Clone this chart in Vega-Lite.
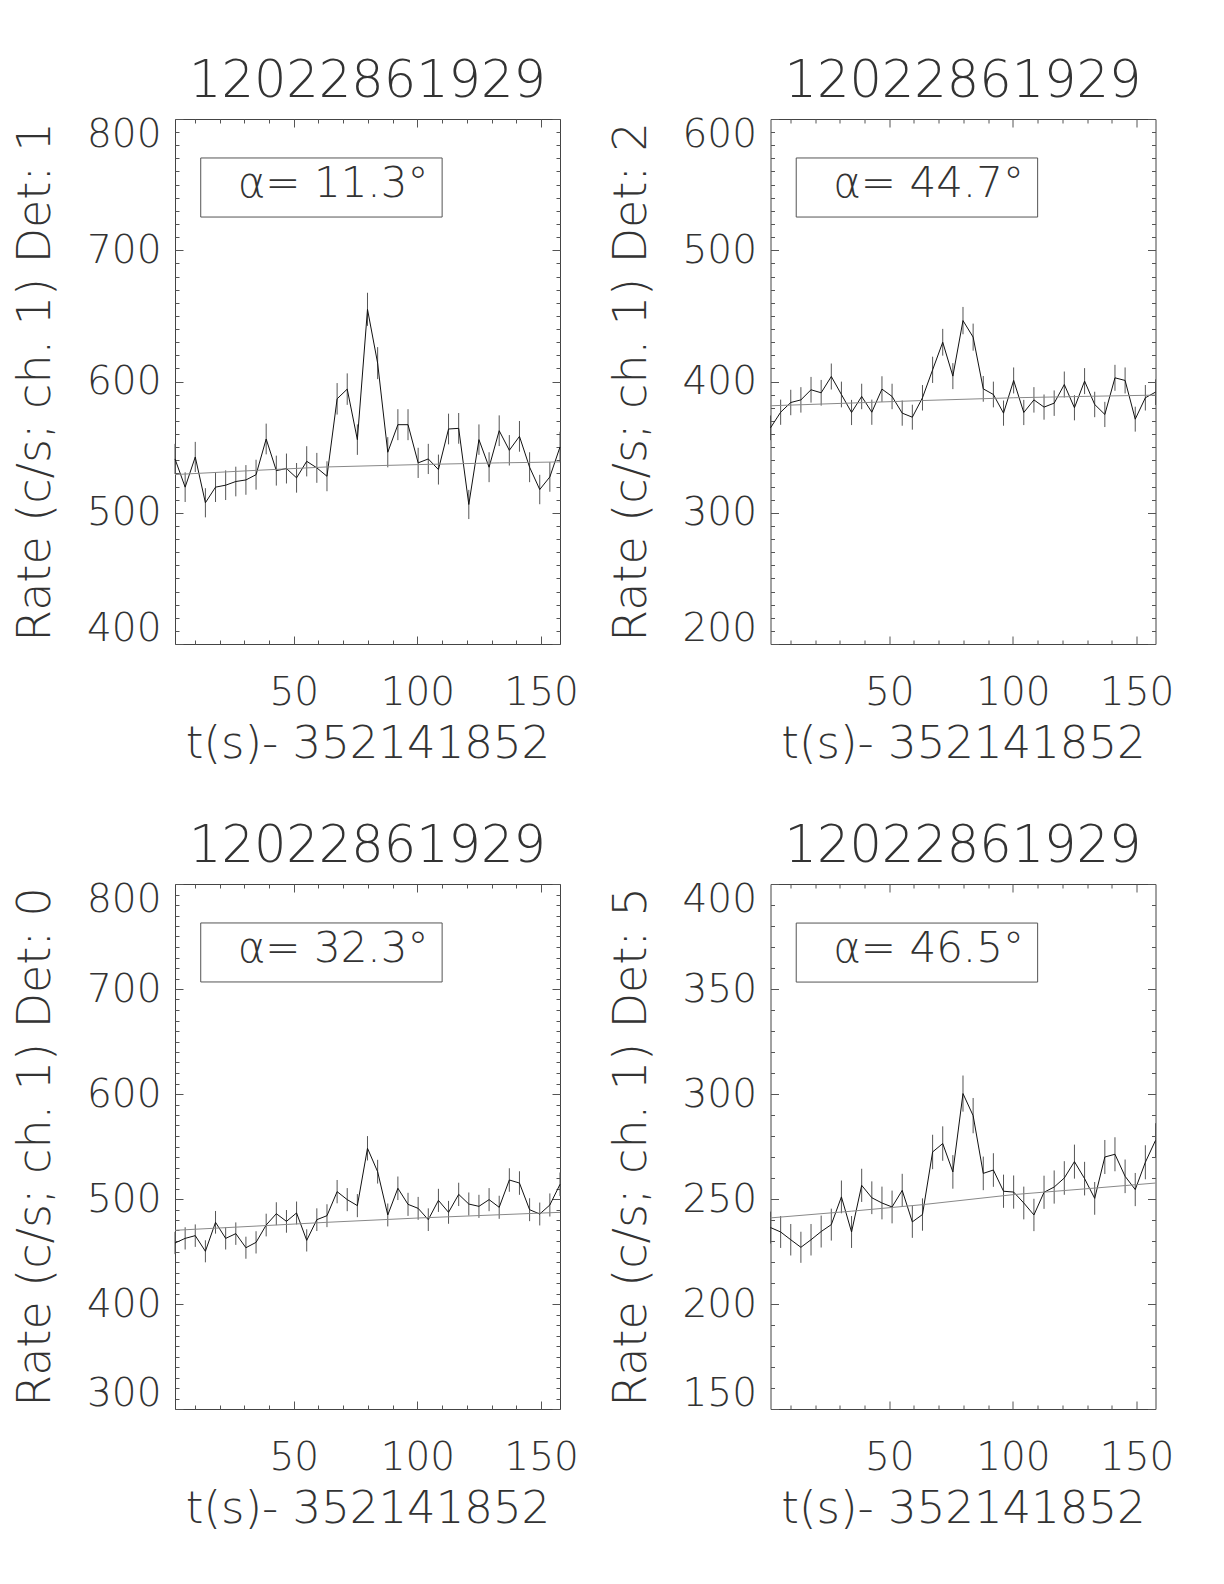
{
 "$schema": "https://vega.github.io/schema/vega-lite/v6.json",
 "background": "white",
 "padding": {"left": 12, "top": 55, "right": 5, "bottom": 5},
 "datasets": {
  "pts": [
   {"d":1,"t":2.00,"r":541,"e":11.5},{"d":1,"t":6.10,"r":519.5,"e":11.3},{"d":1,"t":10.19,"r":542.5,"e":11.5},{"d":1,"t":14.29,"r":507.6,"e":11.1},{"d":1,"t":18.38,"r":519.5,"e":11.3},{"d":1,"t":22.48,"r":521,"e":11.3},{"d":1,"t":26.58,"r":523.8,"e":11.3},{"d":1,"t":30.67,"r":525,"e":11.3},{"d":1,"t":34.77,"r":529,"e":11.4},{"d":1,"t":38.86,"r":556.2,"e":11.7},{"d":1,"t":42.96,"r":532.1,"e":11.4},{"d":1,"t":47.06,"r":533.7,"e":11.4},{"d":1,"t":51.15,"r":526.6,"e":11.3},{"d":1,"t":55.25,"r":539.2,"e":11.5},{"d":1,"t":59.34,"r":534.2,"e":11.4},{"d":1,"t":63.44,"r":527.8,"e":11.4},{"d":1,"t":67.54,"r":586.8,"e":12.0},{"d":1,"t":71.63,"r":594.2,"e":12.0},{"d":1,"t":75.73,"r":555.7,"e":11.6},{"d":1,"t":79.82,"r":655,"e":12.6},{"d":1,"t":83.92,"r":614,"e":12.2},{"d":1,"t":88.02,"r":546.1,"e":11.5},{"d":1,"t":92.11,"r":567.1,"e":11.8},{"d":1,"t":96.21,"r":567.1,"e":11.8},{"d":1,"t":100.30,"r":538,"e":11.5},{"d":1,"t":104.40,"r":541,"e":11.5},{"d":1,"t":108.50,"r":532.9,"e":11.4},{"d":1,"t":112.59,"r":563.8,"e":11.7},{"d":1,"t":116.69,"r":564.3,"e":11.7},{"d":1,"t":120.78,"r":506.3,"e":11.1},{"d":1,"t":124.88,"r":555.7,"e":11.6},{"d":1,"t":128.98,"r":534.7,"e":11.4},{"d":1,"t":133.07,"r":562.5,"e":11.7},{"d":1,"t":137.17,"r":547.6,"e":11.6},{"d":1,"t":141.26,"r":558.2,"e":11.7},{"d":1,"t":145.36,"r":534.7,"e":11.4},{"d":1,"t":149.46,"r":517.7,"e":11.2},{"d":1,"t":153.55,"r":527.3,"e":11.3},{"d":1,"t":157.65,"r":550.1,"e":11.6},
   {"d":2,"t":2.00,"r":364.7,"e":9.4},{"d":2,"t":6.10,"r":376.6,"e":9.6},{"d":2,"t":10.19,"r":384,"e":9.7},{"d":2,"t":14.29,"r":386,"e":9.7},{"d":2,"t":18.38,"r":393.7,"e":9.8},{"d":2,"t":22.48,"r":391.4,"e":9.8},{"d":2,"t":26.58,"r":403.8,"e":9.9},{"d":2,"t":30.67,"r":390.1,"e":9.8},{"d":2,"t":34.77,"r":376.4,"e":9.6},{"d":2,"t":38.86,"r":388.6,"e":9.7},{"d":2,"t":42.96,"r":376.6,"e":9.6},{"d":2,"t":47.06,"r":394.2,"e":9.8},{"d":2,"t":51.15,"r":388.6,"e":9.7},{"d":2,"t":55.25,"r":375.9,"e":9.6},{"d":2,"t":59.34,"r":372.8,"e":9.5},{"d":2,"t":63.44,"r":387.6,"e":9.7},{"d":2,"t":67.54,"r":408.9,"e":10.0},{"d":2,"t":71.63,"r":429.9,"e":10.2},{"d":2,"t":75.73,"r":404.1,"e":9.9},{"d":2,"t":79.82,"r":446.4,"e":10.4},{"d":2,"t":83.92,"r":433.8,"e":10.3},{"d":2,"t":88.02,"r":394.4,"e":9.8},{"d":2,"t":92.11,"r":390.1,"e":9.8},{"d":2,"t":96.21,"r":375.9,"e":9.6},{"d":2,"t":100.30,"r":400.8,"e":9.9},{"d":2,"t":104.40,"r":376.4,"e":9.6},{"d":2,"t":108.50,"r":386,"e":9.7},{"d":2,"t":112.59,"r":380.5,"e":9.6},{"d":2,"t":116.69,"r":383.5,"e":9.7},{"d":2,"t":120.78,"r":397.7,"e":9.9},{"d":2,"t":124.88,"r":380,"e":9.6},{"d":2,"t":128.98,"r":400.3,"e":9.9},{"d":2,"t":133.07,"r":382.5,"e":9.7},{"d":2,"t":137.17,"r":374.9,"e":9.6},{"d":2,"t":141.26,"r":402.8,"e":9.9},{"d":2,"t":145.36,"r":400.8,"e":9.9},{"d":2,"t":149.46,"r":371.3,"e":9.5},{"d":2,"t":153.55,"r":387.6,"e":9.7},{"d":2,"t":157.65,"r":391.9,"e":9.8},
   {"d":0,"t":2.00,"r":458.1,"e":10.6},{"d":0,"t":6.10,"r":462.5,"e":10.6},{"d":0,"t":10.19,"r":465.1,"e":10.7},{"d":0,"t":14.29,"r":450.2,"e":10.5},{"d":0,"t":18.38,"r":477.8,"e":10.8},{"d":0,"t":22.48,"r":462.5,"e":10.6},{"d":0,"t":26.58,"r":467,"e":10.7},{"d":0,"t":30.67,"r":453.6,"e":10.5},{"d":0,"t":34.77,"r":458.7,"e":10.6},{"d":0,"t":38.86,"r":475.2,"e":10.8},{"d":0,"t":42.96,"r":486,"e":10.9},{"d":0,"t":47.06,"r":478.7,"e":10.8},{"d":0,"t":51.15,"r":486.7,"e":10.9},{"d":0,"t":55.25,"r":460.6,"e":10.6},{"d":0,"t":59.34,"r":480.3,"e":10.8},{"d":0,"t":63.44,"r":484.1,"e":10.9},{"d":0,"t":67.54,"r":507,"e":11.1},{"d":0,"t":71.63,"r":499.4,"e":11.0},{"d":0,"t":75.73,"r":493.7,"e":11.0},{"d":0,"t":79.82,"r":548.3,"e":11.6},{"d":0,"t":83.92,"r":526,"e":11.3},{"d":0,"t":88.02,"r":484.8,"e":10.9},{"d":0,"t":92.11,"r":510.2,"e":11.2},{"d":0,"t":96.21,"r":494.9,"e":11.0},{"d":0,"t":100.30,"r":491.1,"e":10.9},{"d":0,"t":104.40,"r":480.3,"e":10.8},{"d":0,"t":108.50,"r":498.7,"e":11.0},{"d":0,"t":112.59,"r":487.3,"e":10.9},{"d":0,"t":116.69,"r":504.4,"e":11.1},{"d":0,"t":120.78,"r":495.2,"e":11.0},{"d":0,"t":124.88,"r":493,"e":11.0},{"d":0,"t":128.98,"r":499.4,"e":11.0},{"d":0,"t":133.07,"r":492.1,"e":11.0},{"d":0,"t":137.17,"r":518.1,"e":11.2},{"d":0,"t":141.26,"r":515.2,"e":11.2},{"d":0,"t":145.36,"r":489.8,"e":10.9},{"d":0,"t":149.46,"r":485.7,"e":10.9},{"d":0,"t":153.55,"r":494.3,"e":11.0},{"d":0,"t":157.65,"r":514,"e":11.2},
   {"d":5,"t":2.00,"r":236.4,"e":7.6},{"d":5,"t":6.10,"r":234.3,"e":7.6},{"d":5,"t":10.19,"r":230.6,"e":7.5},{"d":5,"t":14.29,"r":227,"e":7.4},{"d":5,"t":18.38,"r":230.6,"e":7.5},{"d":5,"t":22.48,"r":234.5,"e":7.6},{"d":5,"t":26.58,"r":237.8,"e":7.6},{"d":5,"t":30.67,"r":251,"e":7.8},{"d":5,"t":34.77,"r":234.3,"e":7.6},{"d":5,"t":38.86,"r":256.5,"e":7.9},{"d":5,"t":42.96,"r":250.6,"e":7.8},{"d":5,"t":47.06,"r":248.1,"e":7.8},{"d":5,"t":51.15,"r":246.2,"e":7.8},{"d":5,"t":55.25,"r":254.1,"e":7.9},{"d":5,"t":59.34,"r":239.1,"e":7.6},{"d":5,"t":63.44,"r":242.6,"e":7.7},{"d":5,"t":67.54,"r":272.4,"e":8.2},{"d":5,"t":71.63,"r":276.4,"e":8.2},{"d":5,"t":75.73,"r":262.9,"e":8.0},{"d":5,"t":79.82,"r":300.2,"e":8.6},{"d":5,"t":83.92,"r":289.7,"e":8.4},{"d":5,"t":88.02,"r":262.2,"e":8.0},{"d":5,"t":92.11,"r":263.8,"e":8.0},{"d":5,"t":96.21,"r":253.7,"e":7.9},{"d":5,"t":100.30,"r":253.3,"e":7.9},{"d":5,"t":104.40,"r":248.1,"e":7.8},{"d":5,"t":108.50,"r":242.4,"e":7.7},{"d":5,"t":112.59,"r":253.2,"e":7.9},{"d":5,"t":116.69,"r":255.7,"e":7.9},{"d":5,"t":120.78,"r":260,"e":8.0},{"d":5,"t":124.88,"r":267.8,"e":8.1},{"d":5,"t":128.98,"r":259.7,"e":8.0},{"d":5,"t":133.07,"r":250.3,"e":7.8},{"d":5,"t":137.17,"r":270,"e":8.1},{"d":5,"t":141.26,"r":271.3,"e":8.1},{"d":5,"t":145.36,"r":260.8,"e":8.0},{"d":5,"t":149.46,"r":254.5,"e":7.9},{"d":5,"t":153.55,"r":267.5,"e":8.1},{"d":5,"t":157.65,"r":277.9,"e":8.2}
  ],
  "bg": [
   {"d":1,"t":2.00,"r":529.1},{"d":1,"t":34.77,"r":532.3},{"d":1,"t":63.44,"r":534.9},{"d":1,"t":100.30,"r":536.7},{"d":1,"t":133.07,"r":538.0},{"d":1,"t":157.65,"r":538.7},
   {"d":2,"t":2.00,"r":381.5},{"d":2,"t":34.77,"r":383.6},{"d":2,"t":63.44,"r":385.5},{"d":2,"t":100.30,"r":387.6},{"d":2,"t":133.07,"r":388.8},{"d":2,"t":157.65,"r":389.6},
   {"d":0,"t":2.00,"r":470.2},{"d":0,"t":34.77,"r":474.2},{"d":0,"t":63.44,"r":477.8},{"d":0,"t":100.30,"r":481.9},{"d":0,"t":133.07,"r":485.0},{"d":0,"t":157.65,"r":487.3},
   {"d":5,"t":2.00,"r":241.0},{"d":5,"t":34.77,"r":244.2},{"d":5,"t":63.44,"r":247.3},{"d":5,"t":100.30,"r":252.1},{"d":5,"t":133.07,"r":255.2},{"d":5,"t":157.65,"r":257.6}
  ],
  "lab": [
   {"d":1,"label":"α= 11.3°"},{"d":2,"label":"α= 44.7°"},{"d":0,"label":"α= 32.3°"},{"d":5,"label":"α= 46.5°"}
  ]
 },
 "columns": 2,
 "bounds": "flush",
 "spacing": {"row": 240, "column": 210.5},
 "concat": [
  {
   "title": "12022861929", "width": 385, "height": 525,
   "resolve": {"axis": {"x": "independent", "y": "independent"}},
   "layer": [
    {"data": {"name": "pts"}, "transform": [{"filter": "datum.d==1"}],
     "mark": {"type": "errorbar", "color": "#555", "thickness": 1},
     "encoding": {"x": {"field": "t", "type": "quantitative", "scale": {"domain": [2, 157.65]}, "axis": null},
                  "y": {"field": "r", "type": "quantitative", "scale": {"domain": [400, 800]}, "axis": null},
                  "yError": {"field": "e"}}},
    {"data": {"name": "pts"}, "transform": [{"filter": "datum.d==1"}],
     "mark": {"type": "line", "color": "#111", "strokeWidth": 1},
     "encoding": {"x": {"field": "t", "type": "quantitative", "scale": {"domain": [2, 157.65]},
                        "axis": {"orient": "bottom", "values": [10,20,30,40,50,60,70,80,90,100,110,120,130,140,150], "labelExpr": "datum.value % 50 === 0 ? datum.label : ''", "tickSize": {"condition": {"test": "datum.value % 50 === 0", "value": -8}, "value": -4}, "title": "t(s)- 352141852"}},
                  "y": {"field": "r", "type": "quantitative", "scale": {"domain": [400, 800]},
                        "axis": {"orient": "left", "values": [400,410,420,430,440,450,460,470,480,490,500,510,520,530,540,550,560,570,580,590,600,610,620,630,640,650,660,670,680,690,700,710,720,730,740,750,760,770,780,790,800], "labelExpr": "datum.value % 100 === 0 ? datum.label : ''", "labelFontSize": {"condition": {"test": "datum.value % 100 === 0", "value": 39}, "value": 1}, "tickSize": {"condition": {"test": "datum.value % 100 === 0", "value": -8}, "value": -4}, "title": "Rate (c/s; ch. 1) Det: 1"}}}},
    {"data": {"name": "bg"}, "transform": [{"filter": "datum.d==1"}],
     "mark": {"type": "line", "color": "#888", "strokeWidth": 1},
     "encoding": {"x": {"field": "t", "type": "quantitative", "scale": {"domain": [2, 157.65]},
                        "axis": {"orient": "top", "values": [10,20,30,40,50,60,70,80,90,100,110,120,130,140,150], "labels": false, "tickSize": {"condition": {"test": "datum.value % 50 === 0", "value": -8}, "value": -4}, "title": null}},
                  "y": {"field": "r", "type": "quantitative", "scale": {"domain": [400, 800]},
                        "axis": {"orient": "right", "values": [400,410,420,430,440,450,460,470,480,490,500,510,520,530,540,550,560,570,580,590,600,610,620,630,640,650,660,670,680,690,700,710,720,730,740,750,760,770,780,790,800], "labels": false, "tickSize": {"condition": {"test": "datum.value % 100 === 0", "value": -8}, "value": -4}, "title": null}}}},
    {"data": {"name": "lab"}, "transform": [{"filter": "datum.d==1"}],
     "mark": {"type": "rect", "fillOpacity": 0, "stroke": "#555", "strokeWidth": 1},
     "encoding": {"x": {"datum": 12.4, "type": "quantitative", "scale": {"domain": [2, 157.65]}, "axis": null}, "x2": {"datum": 110},
                  "y": {"datum": 770.3, "type": "quantitative", "scale": {"domain": [400, 800]}, "axis": null}, "y2": {"datum": 725.3}}},
    {"data": {"name": "lab"}, "transform": [{"filter": "datum.d==1"}],
     "mark": {"type": "text", "fontSize": 42, "font": "DejaVu Sans", "fontWeight": 200, "color": "#333", "align": "center", "baseline": "middle"},
     "encoding": {"x": {"datum": 65.9, "type": "quantitative", "scale": {"domain": [2, 157.65]}, "axis": null},
                  "y": {"datum": 750.6, "type": "quantitative", "scale": {"domain": [400, 800]}, "axis": null},
                  "text": {"field": "label"}}}
   ]
  },
  {
   "title": "12022861929", "width": 385, "height": 525,
   "resolve": {"axis": {"x": "independent", "y": "independent"}},
   "layer": [
    {"data": {"name": "pts"}, "transform": [{"filter": "datum.d==2"}],
     "mark": {"type": "errorbar", "color": "#555", "thickness": 1},
     "encoding": {"x": {"field": "t", "type": "quantitative", "scale": {"domain": [2, 157.65]}, "axis": null},
                  "y": {"field": "r", "type": "quantitative", "scale": {"domain": [200, 600]}, "axis": null},
                  "yError": {"field": "e"}}},
    {"data": {"name": "pts"}, "transform": [{"filter": "datum.d==2"}],
     "mark": {"type": "line", "color": "#111", "strokeWidth": 1},
     "encoding": {"x": {"field": "t", "type": "quantitative", "scale": {"domain": [2, 157.65]},
                        "axis": {"orient": "bottom", "values": [10,20,30,40,50,60,70,80,90,100,110,120,130,140,150], "labelExpr": "datum.value % 50 === 0 ? datum.label : ''", "tickSize": {"condition": {"test": "datum.value % 50 === 0", "value": -8}, "value": -4}, "title": "t(s)- 352141852"}},
                  "y": {"field": "r", "type": "quantitative", "scale": {"domain": [200, 600]},
                        "axis": {"orient": "left", "values": [200,210,220,230,240,250,260,270,280,290,300,310,320,330,340,350,360,370,380,390,400,410,420,430,440,450,460,470,480,490,500,510,520,530,540,550,560,570,580,590,600], "labelExpr": "datum.value % 100 === 0 ? datum.label : ''", "labelFontSize": {"condition": {"test": "datum.value % 100 === 0", "value": 39}, "value": 1}, "tickSize": {"condition": {"test": "datum.value % 100 === 0", "value": -8}, "value": -4}, "title": "Rate (c/s; ch. 1) Det: 2"}}}},
    {"data": {"name": "bg"}, "transform": [{"filter": "datum.d==2"}],
     "mark": {"type": "line", "color": "#888", "strokeWidth": 1},
     "encoding": {"x": {"field": "t", "type": "quantitative", "scale": {"domain": [2, 157.65]},
                        "axis": {"orient": "top", "values": [10,20,30,40,50,60,70,80,90,100,110,120,130,140,150], "labels": false, "tickSize": {"condition": {"test": "datum.value % 50 === 0", "value": -8}, "value": -4}, "title": null}},
                  "y": {"field": "r", "type": "quantitative", "scale": {"domain": [200, 600]},
                        "axis": {"orient": "right", "values": [200,210,220,230,240,250,260,270,280,290,300,310,320,330,340,350,360,370,380,390,400,410,420,430,440,450,460,470,480,490,500,510,520,530,540,550,560,570,580,590,600], "labels": false, "tickSize": {"condition": {"test": "datum.value % 100 === 0", "value": -8}, "value": -4}, "title": null}}}},
    {"data": {"name": "lab"}, "transform": [{"filter": "datum.d==2"}],
     "mark": {"type": "rect", "fillOpacity": 0, "stroke": "#555", "strokeWidth": 1},
     "encoding": {"x": {"datum": 12.4, "type": "quantitative", "scale": {"domain": [2, 157.65]}, "axis": null}, "x2": {"datum": 110},
                  "y": {"datum": 570.3, "type": "quantitative", "scale": {"domain": [200, 600]}, "axis": null}, "y2": {"datum": 525.3}}},
    {"data": {"name": "lab"}, "transform": [{"filter": "datum.d==2"}],
     "mark": {"type": "text", "fontSize": 42, "font": "DejaVu Sans", "fontWeight": 200, "color": "#333", "align": "center", "baseline": "middle"},
     "encoding": {"x": {"datum": 65.9, "type": "quantitative", "scale": {"domain": [2, 157.65]}, "axis": null},
                  "y": {"datum": 550.6, "type": "quantitative", "scale": {"domain": [200, 600]}, "axis": null},
                  "text": {"field": "label"}}}
   ]
  },
  {
   "title": "12022861929", "width": 385, "height": 525,
   "resolve": {"axis": {"x": "independent", "y": "independent"}},
   "layer": [
    {"data": {"name": "pts"}, "transform": [{"filter": "datum.d==0"}],
     "mark": {"type": "errorbar", "color": "#555", "thickness": 1},
     "encoding": {"x": {"field": "t", "type": "quantitative", "scale": {"domain": [2, 157.65]}, "axis": null},
                  "y": {"field": "r", "type": "quantitative", "scale": {"domain": [300, 800]}, "axis": null},
                  "yError": {"field": "e"}}},
    {"data": {"name": "pts"}, "transform": [{"filter": "datum.d==0"}],
     "mark": {"type": "line", "color": "#111", "strokeWidth": 1},
     "encoding": {"x": {"field": "t", "type": "quantitative", "scale": {"domain": [2, 157.65]},
                        "axis": {"orient": "bottom", "values": [10,20,30,40,50,60,70,80,90,100,110,120,130,140,150], "labelExpr": "datum.value % 50 === 0 ? datum.label : ''", "tickSize": {"condition": {"test": "datum.value % 50 === 0", "value": -8}, "value": -4}, "title": "t(s)- 352141852"}},
                  "y": {"field": "r", "type": "quantitative", "scale": {"domain": [300, 800]},
                        "axis": {"orient": "left", "values": [300,310,320,330,340,350,360,370,380,390,400,410,420,430,440,450,460,470,480,490,500,510,520,530,540,550,560,570,580,590,600,610,620,630,640,650,660,670,680,690,700,710,720,730,740,750,760,770,780,790,800], "labelExpr": "datum.value % 100 === 0 ? datum.label : ''", "labelFontSize": {"condition": {"test": "datum.value % 100 === 0", "value": 39}, "value": 1}, "tickSize": {"condition": {"test": "datum.value % 100 === 0", "value": -8}, "value": -4}, "title": "Rate (c/s; ch. 1) Det: 0"}}}},
    {"data": {"name": "bg"}, "transform": [{"filter": "datum.d==0"}],
     "mark": {"type": "line", "color": "#888", "strokeWidth": 1},
     "encoding": {"x": {"field": "t", "type": "quantitative", "scale": {"domain": [2, 157.65]},
                        "axis": {"orient": "top", "values": [10,20,30,40,50,60,70,80,90,100,110,120,130,140,150], "labels": false, "tickSize": {"condition": {"test": "datum.value % 50 === 0", "value": -8}, "value": -4}, "title": null}},
                  "y": {"field": "r", "type": "quantitative", "scale": {"domain": [300, 800]},
                        "axis": {"orient": "right", "values": [300,310,320,330,340,350,360,370,380,390,400,410,420,430,440,450,460,470,480,490,500,510,520,530,540,550,560,570,580,590,600,610,620,630,640,650,660,670,680,690,700,710,720,730,740,750,760,770,780,790,800], "labels": false, "tickSize": {"condition": {"test": "datum.value % 100 === 0", "value": -8}, "value": -4}, "title": null}}}},
    {"data": {"name": "lab"}, "transform": [{"filter": "datum.d==0"}],
     "mark": {"type": "rect", "fillOpacity": 0, "stroke": "#555", "strokeWidth": 1},
     "encoding": {"x": {"datum": 12.4, "type": "quantitative", "scale": {"domain": [2, 157.65]}, "axis": null}, "x2": {"datum": 110},
                  "y": {"datum": 762.9, "type": "quantitative", "scale": {"domain": [300, 800]}, "axis": null}, "y2": {"datum": 706.7}}},
    {"data": {"name": "lab"}, "transform": [{"filter": "datum.d==0"}],
     "mark": {"type": "text", "fontSize": 42, "font": "DejaVu Sans", "fontWeight": 200, "color": "#333", "align": "center", "baseline": "middle"},
     "encoding": {"x": {"datum": 65.9, "type": "quantitative", "scale": {"domain": [2, 157.65]}, "axis": null},
                  "y": {"datum": 738.3, "type": "quantitative", "scale": {"domain": [300, 800]}, "axis": null},
                  "text": {"field": "label"}}}
   ]
  },
  {
   "title": "12022861929", "width": 385, "height": 525,
   "resolve": {"axis": {"x": "independent", "y": "independent"}},
   "layer": [
    {"data": {"name": "pts"}, "transform": [{"filter": "datum.d==5"}],
     "mark": {"type": "errorbar", "color": "#555", "thickness": 1},
     "encoding": {"x": {"field": "t", "type": "quantitative", "scale": {"domain": [2, 157.65]}, "axis": null},
                  "y": {"field": "r", "type": "quantitative", "scale": {"domain": [150, 400]}, "axis": null},
                  "yError": {"field": "e"}}},
    {"data": {"name": "pts"}, "transform": [{"filter": "datum.d==5"}],
     "mark": {"type": "line", "color": "#111", "strokeWidth": 1},
     "encoding": {"x": {"field": "t", "type": "quantitative", "scale": {"domain": [2, 157.65]},
                        "axis": {"orient": "bottom", "values": [10,20,30,40,50,60,70,80,90,100,110,120,130,140,150], "labelExpr": "datum.value % 50 === 0 ? datum.label : ''", "tickSize": {"condition": {"test": "datum.value % 50 === 0", "value": -8}, "value": -4}, "title": "t(s)- 352141852"}},
                  "y": {"field": "r", "type": "quantitative", "scale": {"domain": [150, 400]},
                        "axis": {"orient": "left", "values": [150,160,170,180,190,200,210,220,230,240,250,260,270,280,290,300,310,320,330,340,350,360,370,380,390,400], "labelExpr": "datum.value % 50 === 0 ? datum.label : ''", "labelFontSize": {"condition": {"test": "datum.value % 50 === 0", "value": 39}, "value": 1}, "tickSize": {"condition": {"test": "datum.value % 50 === 0", "value": -8}, "value": -4}, "title": "Rate (c/s; ch. 1) Det: 5"}}}},
    {"data": {"name": "bg"}, "transform": [{"filter": "datum.d==5"}],
     "mark": {"type": "line", "color": "#888", "strokeWidth": 1},
     "encoding": {"x": {"field": "t", "type": "quantitative", "scale": {"domain": [2, 157.65]},
                        "axis": {"orient": "top", "values": [10,20,30,40,50,60,70,80,90,100,110,120,130,140,150], "labels": false, "tickSize": {"condition": {"test": "datum.value % 50 === 0", "value": -8}, "value": -4}, "title": null}},
                  "y": {"field": "r", "type": "quantitative", "scale": {"domain": [150, 400]},
                        "axis": {"orient": "right", "values": [150,160,170,180,190,200,210,220,230,240,250,260,270,280,290,300,310,320,330,340,350,360,370,380,390,400], "labels": false, "tickSize": {"condition": {"test": "datum.value % 50 === 0", "value": -8}, "value": -4}, "title": null}}}},
    {"data": {"name": "lab"}, "transform": [{"filter": "datum.d==5"}],
     "mark": {"type": "rect", "fillOpacity": 0, "stroke": "#555", "strokeWidth": 1},
     "encoding": {"x": {"datum": 12.4, "type": "quantitative", "scale": {"domain": [2, 157.65]}, "axis": null}, "x2": {"datum": 110},
                  "y": {"datum": 381.4, "type": "quantitative", "scale": {"domain": [150, 400]}, "axis": null}, "y2": {"datum": 353.3}}},
    {"data": {"name": "lab"}, "transform": [{"filter": "datum.d==5"}],
     "mark": {"type": "text", "fontSize": 42, "font": "DejaVu Sans", "fontWeight": 200, "color": "#333", "align": "center", "baseline": "middle"},
     "encoding": {"x": {"datum": 65.9, "type": "quantitative", "scale": {"domain": [2, 157.65]}, "axis": null},
                  "y": {"datum": 369.1, "type": "quantitative", "scale": {"domain": [150, 400]}, "axis": null},
                  "text": {"field": "label"}}}
   ]
  }
 ],
 "config": {
  "view": {"stroke": "#444", "strokeWidth": 1},
  "font": "DejaVu Sans",
  "title": {"fontSize": 51, "font": "DejaVu Sans", "fontWeight": 200, "color": "#333", "offset": 7},
  "axis": {"domain": false, "grid": false, "labelFont": "DejaVu Sans", "labelFontSize": 39, "labelFontWeight": 200, "labelColor": "#333", "titleFont": "DejaVu Sans", "titleFontSize": 45, "titleFontWeight": 200, "titleColor": "#333", "tickColor": "#555", "tickWidth": 1, "labelOverlap": false},
  "axisBottom": {"labelPadding": 37, "titlePadding": 5, "titleFontSize": 45},
  "axisLeft": {"labelPadding": 22, "titlePadding": 27, "labelFlush": true, "labelFlushOffset": 4, "titleFontSize": 46}
 }
}
